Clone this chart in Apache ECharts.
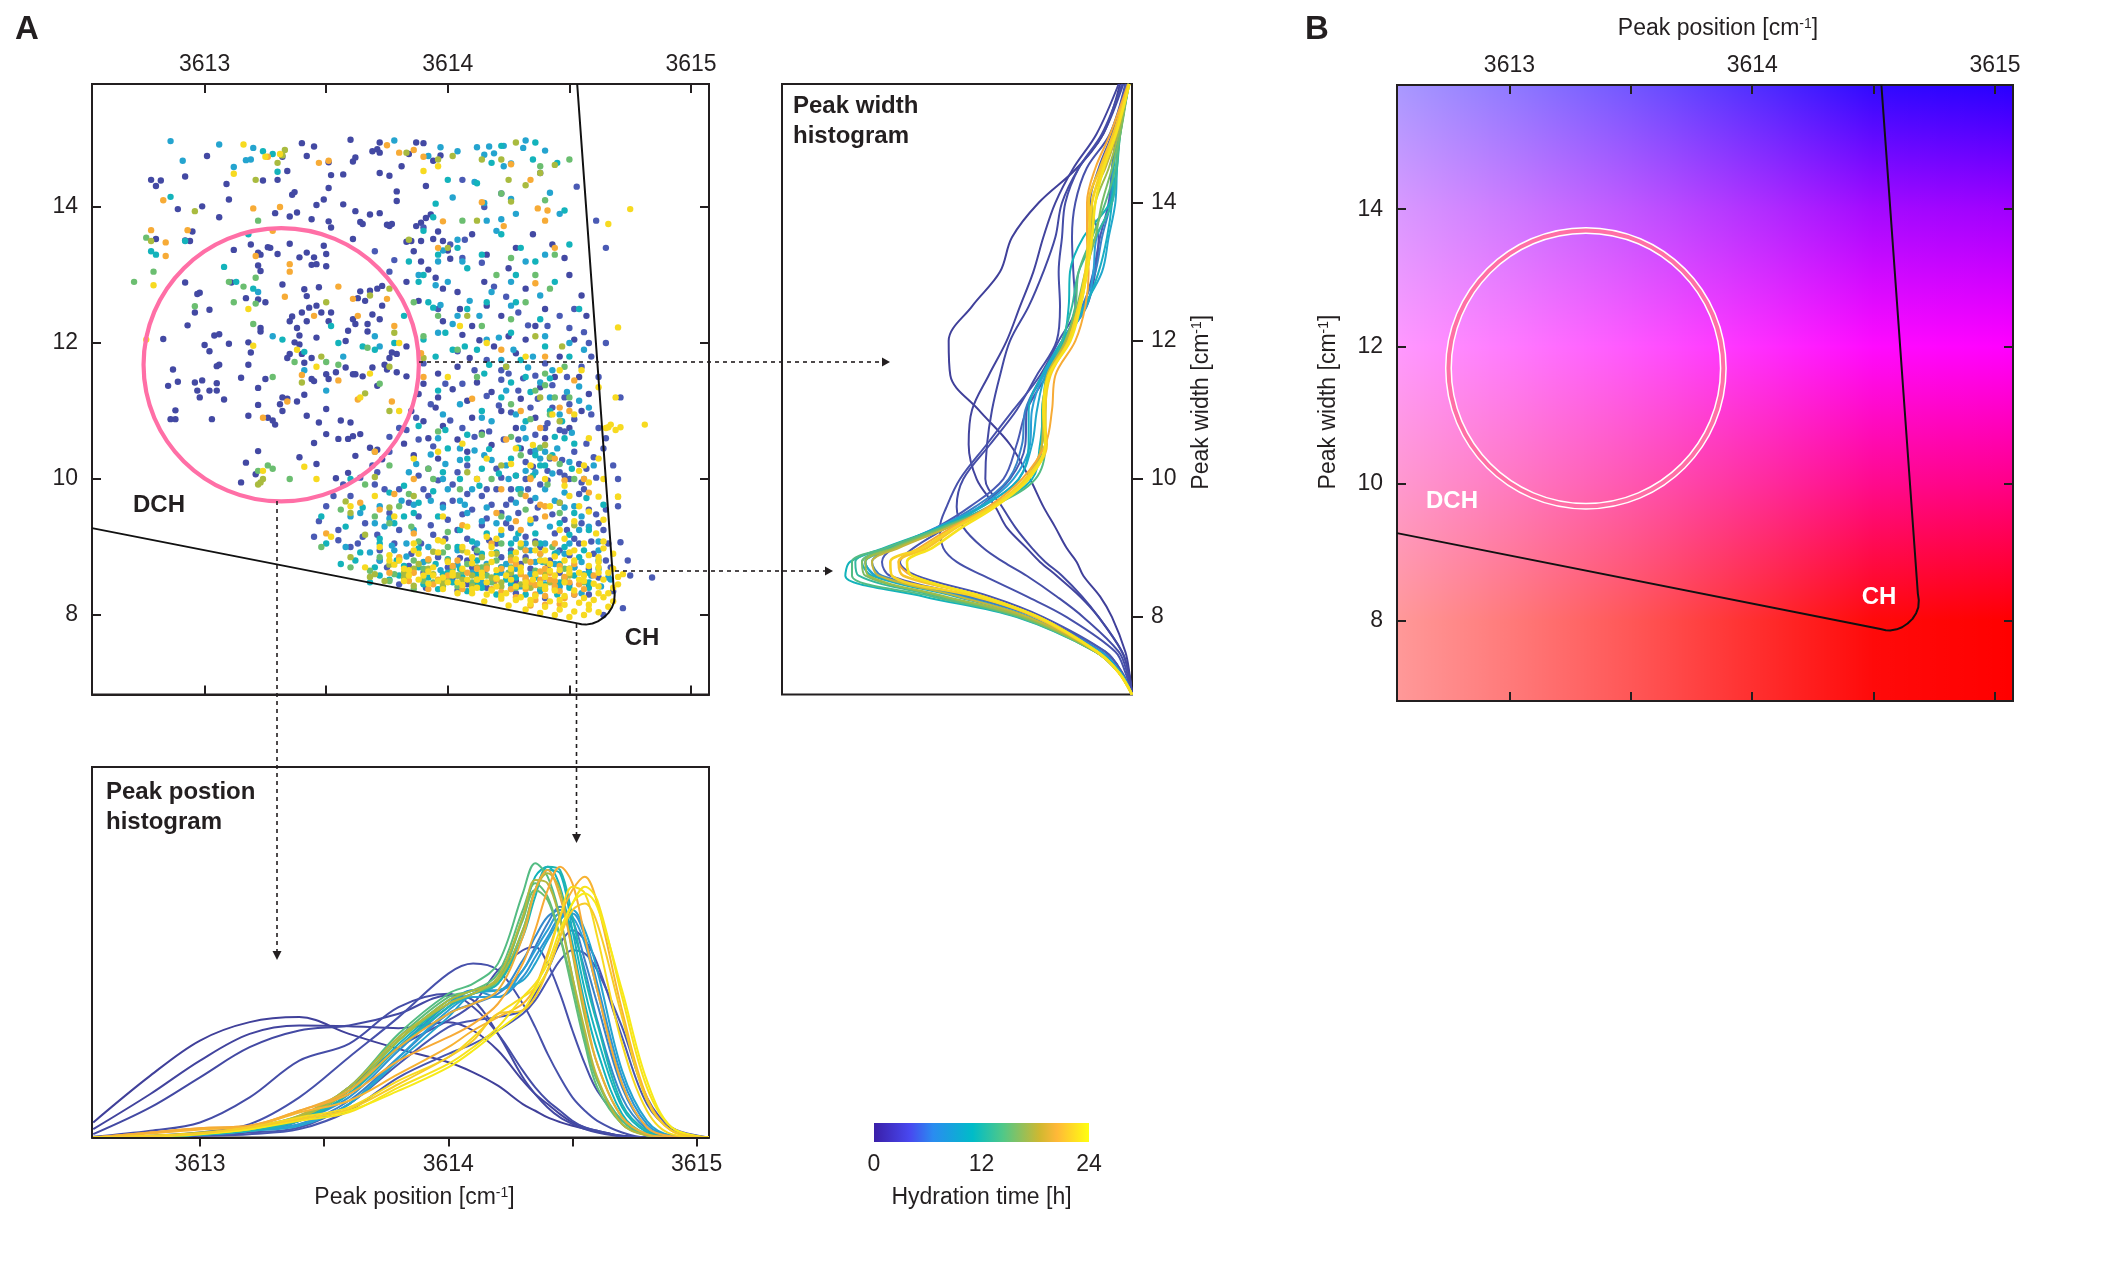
<!DOCTYPE html>
<html><head><meta charset="utf-8">
<style>html,body{margin:0;padding:0;background:#fff}#c{width:2101px;height:1261px}</style>
<script src="https://cdn.jsdelivr.net/npm/echarts@6/dist/echarts.min.js"></script>
</head><body><div id="c"></div>
<script>
// ---------- axis tick values ----------
const xTicks=[3613,3613.5,3614,3614.5,3615];
const xLabels=[3613,3614,3615];
const yTicks=[8,10,12,14];
const hourLabels=[0,12,24];
// ---------- colour scale for hydration time: bar, then printed marks ----------
const cmapHours=[0,4,6.6,11,14.4,18.5,20.4,24];
const cmapColors=['#3a1fa8','#4848f0','#2a8cf0','#00bcc8','#50c888','#d0b830','#ffb838','#ffff10'];
const markHours=[0,3,6.5,10.5,14,17,20,24];
const markColors=['#40409a','#4a5ab4','#2a9fd6','#13b3bb','#5fbe7a','#a9bb3f','#f7ab36','#f7ea18'];
// ---------- DCH/CH boundary and ellipse ----------
const boundaryX=[3612.537,3614.528,3614.55,3614.568,3614.595,3614.617,3614.64,3614.66,3614.675,3614.684,3614.686,3614.682,3614.532];
const boundaryY=[9.277,7.88,7.862,7.858,7.875,7.905,7.96,8.027,8.11,8.196,8.3,8.4,15.81];
const ellipseCentre=[3613.315,11.68];
const ellipseRadii=[0.566,2.01];
// ---------- panel B colour field ----------
const fieldHueY=[15.81,14,12,10,8,6.83];
const fieldHueColors=['#2800ff','#a000ff','#ff00ff','#ff0088','#ff0000','#ff0000'];
const fieldFadeX=[3612.537,3613,3613.5,3614,3614.5,3615.074];
const fieldFadeAlpha=[0.6,0.48,0.34,0.19,0.04,0];
// ---------- scatter points, as x-3612 and y, both in hundredths, pairs in a row ----------
const dots_h0=[78,1440,80,1431,82,1439,92,1445,101,1475,109,1434,110,1411,89,1397,99,1401,106,1385,80,1353,95,1364,92,1351,94,1350,112,1337,129,1391,135,1386,138,1392,130,1440,124,1439,136,1418,137,1422,134,1453,132,1474,140,1494,145,1489,142,1475,151,1466,152,1447,157,1448,151,1428,146,1403,149,1411,157,1404,162,1394,151,1379,152,1370,144,1382,164,1378,165,1375,168,1389,172,1391,175,1374,177,1375,176,1372,161,1353,160,1499,172,1495,169,1482,171,1485,172,1480,161,1467,162,1473,172,1450,176,1446,181,1460,184,1478,179,1423,179,1409,187,1495,190,1494,191,1431,194,1468,197,1476,189,1377,187,1372,191,1384,193,1389,183,1349,185,1350,189,1350,194,1353,196,1364,198,1350,200,1336,201,1324,
119,1345,122,1333,123,1330,126,1341,127,1340,130,1331,135,1346,139,1326,142,1333,145,1326,150,1331,149,1343,144,1315,146,1316,150,1313,122,1314,123,1306,132,1286,141,1279,147,1282,142,1269,146,1255,143,1252,140,1245,136,1239,135,1232,138,1222,139,1211,137,1201,142,1232,148,1245,152,1245,151,1232,146,1208,161,1235,162,1228,167,1228,163,1266,166,1262,168,1277,171,1280,173,1284,164,1276,173,1255,169,1242,172,1235,135,1184,134,1178,140,1184,144,1178,141,1171,139,1198,158,1203,159,1218,167,1217,177,1186,176,1178,179,1184,183,1195,174,1168,169,1164,175,1161,179,1157,183,1151,171,1137,165,1151,162,1154,161,1154,158,1164,154,1157,150,1154,151,1147,145,1144,144,1147,122,1134,131,1110,134,1118,132,1120,122,1109,126,1090,128,1086,129,1080,132,1100,138,1114,141,1124,150,1103,142,1093,147,1083,156,1086,160,1083,161,1063,164,1066,150,1066,155,1059,159,1059,145,1053,118,1093,139,1032,122,1041,117,1024,121,1007,115,995,146,1022,162,1034,159,1009,154,1001,168,1046,171,1043,173,1029,
92,1289,98,1274,97,1272,96,1245,102,1249,93,1226,104,1211,106,1213,83,1206,110,1199,118,1201,100,1197,102,1188,119,1186,105,1166,106,1168,87,1161,118,1168,115,1149,85,1137,89,1143,99,1145,96,1142,97,1130,98,1120,102,1130,105,1141,105,1130,108,1117,88,1101,86,1088,88,1088,103,1088,111,1289,117,1266,122,1264,125,1260,123,1222,123,1217,125,1147,
186,1335,189,1320,192,1308,195,1296,183,1290,198,1280,204,1275,188,1262,205,1250,198,1232,210,1225,216,1255,222,1240,206,1212,213,1204,219,1195,225,1210,232,1205,228,1185,209,1178,204,1165,196,1155,190,1140,188,1125,196,1120,202,1132,212,1142,218,1128,208,1115,195,1105,185,1100,190,1085,198,1078,210,1090,222,1100,230,1118,238,1135,244,1150,236,1090,228,1075,214,1068,204,1058,192,1060,182,1052,186,1035,196,1030,208,1040,218,1050,230,1045,240,1060,250,1075,255,1100,258,1125,254,1150,246,1180,252,1205,257,1240,255,1270,250,1300,248,1325,243,1345,235,1360,228,1340,225,1310,216,1330,210,1360,215,1290,232,1280,240,1250,236,1225];
const dots_h3=[188,1005,196,998,204,1010,212,1000,220,1015,232,1025,242,1030,252,1040,257,1015,250,1000,238,992,226,985,214,975,202,968,192,975,180,985,170,992,160,975,150,960,210,955,222,950,234,968,246,965,254,978,258,955,262,935,248,940,236,942,226,928,214,932,200,940,188,945,176,950,166,935,180,925,194,918,208,912,220,905,232,915,244,920,254,905,260,890,266,905,267,870,262,855,252,870,242,880,232,885,222,870,208,880,196,885,185,890,172,895,160,900,175,870,190,862,202,855,215,862,228,850,240,855,250,845,258,830,268,835,272,810,264,800,271,907,275,858,284,855,265,955,271,1120,265,1200,261,1380,265,1340,253,1430,238,1450,222,1420,206,1440,215,1400,190,1370,206,1325,178,1322,170,1335,176,1305,196,1250,204,1188,190,1170,225,1155,240,1170,248,1120,232,1000,248,1070,236,1065,208,1020,192,1015,220,985,228,1005,246,1010,256,985,224,962,216,942,204,925,212,892,226,895,238,900,250,888,258,868,246,862,234,868,222,885,210,870,200,870,268,1020,270,960,274,880,265,880,258,845,252,830,240,825,228,832,216,840,204,836,191,840,180,845,172,880,165,915,155,925,145,915,270,1000,265,1060,262,1150,258,1200,252,1250,
201,1345,207,1352,214,1318,219,1283,224,1268,229,1245,233,1226,241,1225,246,1240,250,1222,256,1216,259,1180,255,1165,249,1150,243,1138,236,1152,231,1148,222,1146,216,1122,221,1108,226,1098,234,1105,241,1082,246,1072,252,1088,257,1052,260,1032,254,1022,247,1028,241,1012,235,1018,229,1058,223,1058,217,1070,211,1062,206,1075,201,1086,194,1048,188,1058,183,1072,176,1062,169,1020,164,1002,157,992,153,975,147,938,155,910,163,905,171,918,178,905,184,872,189,905,193,932,199,912,205,884,211,898,217,910,224,935,229,950,237,958,243,948,249,925,255,935,261,948,264,925,259,908,252,912,246,895,241,870,236,908,230,875,226,858,219,848,213,856,208,845,202,992,208,978,218,962,226,970,233,985,241,998,248,1005,255,995,261,1002,264,1045,262,1075,259,1095,250,1110,243,1105,237,1118,229,1130,222,1160,216,1175,211,1160,206,1140,199,1140,193,1110,187,1090,180,1075,176,1040,171,1010,174,985,184,965,190,985,198,962,206,948,216,985,222,1002,234,1040,240,1075];
const dots_h7=[86,1497,106,1492,91,1468,117,1469,119,1470,112,1459,120,1487,192,1475,178,1498,197,1488,212,1488,217,1489,223,1490,204,1482,215,1477,232,1498,231,1487,240,1483,226,1464,219,1479,223,1460,211,1437,202,1414,226,1412,215,1406,242,1421,228,1390,222,1382,216,1380,204,1352,198,1336,196,1320,188,1300,195,1285,206,1320,200,1290,220,1365,246,1390,232,1320,240,1330,226,1290,218,1275,238,1270,226,1255,204,1240,196,1215,170,1210,172,1195,157,1180,150,1130,141,1160,128,1210,122,1275,216,1205,222,1175,240,1210,235,1180,250,1200,256,1190,254,1115,246,1095,242,1120,228,1095,214,1090,205,1110,198,1095,215,1035,224,1020,236,1010,196,1060,184,1010,172,960,164,950,158,900,183,905,192,900,204,895,212,905,224,875,234,860,244,845,252,870,262,880,266,855,240,905,254,925,234,935,220,935,208,950,198,958,186,925,178,895,172,880,160,945,228,965,240,985,252,960,260,1020,240,1040,230,985,244,875,236,878,228,868,248,890,256,860,262,895,250,905,242,930,232,905,238,850,226,838,214,848,204,858,256,1000,250,1025,248,980,210,985,186,962,174,930,198,1000,205,1045,232,1060,
197,1256,202,1228,209,1262,213,1240,221,1208,227,1190,233,1164,238,1142,243,1160,249,1128,254,1136,258,1105,251,1068,245,1045,238,1030,232,1012,225,1000,218,1028,211,1042,205,1028,199,1022,193,1036,187,1022,181,968,176,942,170,935,193,968,200,985,207,962,214,938,222,918,228,912,234,895,239,878,245,892,250,868,255,878,259,858,263,842,267,852,255,832,246,842,238,835,230,842,222,862,216,875,210,862,204,874,197,866,190,878,183,886,177,902,168,892,218,1085,224,1130,231,1075,236,1042,243,1008,248,958,255,945,262,908,258,930,244,968,236,972,225,942,216,958,205,968];
const dots_h11=[86,1415,92,1350,78,1335,80,1330,130,1452,124,1482,128,1478,118,1360,108,1312,113,1290,120,1280,132,1205,141,1187,152,1225,155,1200,165,1195,170,1190,178,1200,190,1205,195,1180,182,1240,192,1260,188,1290,196,1330,204,1340,208,1310,222,1360,230,1340,236,1320,248,1395,212,1435,195,1405,200,1440,235,1470,245,1465,218,1465,222,1490,236,1495,194,1385,190,1365,216,1260,228,1260,238,1235,226,1215,240,1195,230,1175,202,1190,212,1190,215,1155,196,1130,214,1100,222,1120,232,1085,242,1100,248,1060,240,1020,226,1030,214,1015,198,1010,182,990,176,980,165,958,160,1000,178,935,186,950,196,945,205,925,216,920,226,905,236,920,246,935,252,950,258,925,248,900,232,895,222,870,212,880,205,868,195,875,182,872,170,870,162,880,150,905,158,930,148,945,172,905,228,1005,236,1035,208,1065,200,1045,188,1078,224,1165,250,1180,254,1250,250,1345,244,1290,228,1300,214,1330,208,1250,204,900,214,890,226,890,238,880,246,875,254,885,258,862,248,855,236,855,224,852,212,860,200,862,192,855,184,862,176,852,168,848,190,845,202,848,214,840,226,845,238,838,250,840,258,840,245,830,232,830,220,830,208,835,196,838,
184,1320,190,1300,194,1252,199,1215,207,1195,217,1168,226,1142,234,1128,242,1148,247,1085,252,1052,243,1035,235,1005,229,985,221,1008,213,990,205,1000,194,982,188,965,182,945,172,912,164,892,156,875,179,880,188,898,200,882,210,908,220,892,229,920,238,905,244,890,250,918,256,895,262,868,258,848,252,858,246,848,240,845,234,842,228,855,220,858,212,846,206,856,198,860,188,870,180,858,172,858,232,1150,244,1062,251,1015,257,972,264,962,238,1020,229,1046,217,1044,208,1030,199,1072];
const dots_h14=[76,1355,79,1305,71,1290,122,1380,110,1290,121,1296,116,1283,96,1254,112,1260,121,1258,120,1228,128,1150,137,1172,150,1172,155,1168,167,1193,172,1140,126,1020,122,1012,128,1015,135,1000,170,1040,176,1020,186,1260,190,1210,196,1240,204,1190,214,1225,226,1235,232,1260,242,1280,236,1300,220,1300,206,1380,222,1420,240,1410,238,1460,250,1470,244,1330,226,1325,212,1150,226,1110,236,1130,242,1095,214,1065,196,1070,192,1015,180,960,166,992,156,955,148,900,170,945,185,930,200,922,222,945,232,955,246,950,238,890,226,870,200,900,186,880,172,885,160,870,190,868,202,868,214,870,225,862,236,865,248,868,243,900,222,905,212,895,200,855,190,850,210,848,198,842,186,838,204,842,178,860,168,865,176,850,192,880,216,858,230,1035,250,1120,240,1155,248,1165,
240,1138,244,1120,234,1088,226,1062,238,1046,246,1022,252,1000,241,992,230,978,218,1000,205,985,194,1000,184,978,176,935,188,908,198,892,208,875,220,880,230,900,240,878,248,852,256,848,238,842,228,840,218,848,206,864,194,848];
const dots_h17=[78,1350,96,1394,130,1465,132,1476,133,1484,121,1440,202,1475,183,1480,196,1470,214,1470,228,1495,222,1470,225,1440,232,1432,238,1450,244,1462,226,1408,212,1380,200,1340,184,1352,176,1280,168,1270,150,1260,148,1180,140,1142,166,1126,124,1000,123,995,122,992,158,967,176,1100,178,1215,208,1240,190,1178,176,1165,224,1165,236,1210,247,1195,240,1050,222,1020,208,1010,186,975,176,958,170,1003,160,950,166,918,160,885,180,882,194,893,206,895,220,890,232,880,214,885,240,860,226,862,212,870,200,880,188,875,170,860,182,855,194,860,206,852,218,855,230,845,242,848,250,858,174,850,186,843,198,845,210,842,222,842,234,840,244,838,
238,1120,246,1085,242,1032,234,1002,246,965,252,932,236,905,226,885,216,872,204,858,192,868,182,862,176,874,168,856,186,868,198,852,210,858,222,848,232,852];
const dots_h20=[83,1410,78,1366,93,1366,84,1348,84,1328,128,1365,121,1328,120,1398,126,1474,131,1400,147,1465,151,1468,180,1480,175,1491,186,1484,190,1474,226,1463,234,1440,237,1398,241,1395,223,1372,214,1407,198,1379,196,1340,135,1305,155,1283,161,1265,175,1265,135,1316,133,1268,145,1240,163,1240,178,1225,189,1185,177,1114,124,1090,134,1114,140,1153,155,1145,163,1117,190,1150,210,1118,222,1190,240,1180,236,1288,244,1340,240,1380,186,1000,178,978,170,1040,150,920,164,965,172,955,186,920,206,932,220,950,234,1000,244,1030,250,1100,252,1145,238,1075,230,1100,180,885,192,882,204,880,216,868,228,875,240,868,252,875,260,858,186,862,196,852,208,862,220,852,232,855,244,850,254,845,230,860,238,852,226,838,236,830,246,835,218,838,206,838,194,845,184,850,176,862,226,880,238,890,232,895,218,905,230,925,240,945,228,938,240,960,232,975,222,985,
242,862,246,872,240,838,248,856,238,864,234,848,242,852,250,848,236,844,244,842,232,838,240,828,248,825,236,822,228,826,222,834,246,816,240,815,234,814,252,830,256,838,212,868,200,858,224,1058,246,1105,256,1000,258,980,248,998,238,962,244,905,234,878,222,868,212,852,202,872,192,838];
const dots_h23=[116,1492,131,1478,125,1474,112,1449,196,1460,190,1453,118,1250,120,1196,79,1285,76,1205,138,1190,146,1165,180,1200,168,1155,164,1120,124,1012,141,1018,146,1000,160,960,152,915,180,1100,200,1150,205,1225,216,1200,232,1180,246,1160,255,1160,262,1135,269,1120,271,1076,265,1075,258,1060,266,1076,243,1095,252,1095,235,1050,228,1045,212,1000,198,945,180,880,172,900,186,905,196,910,208,930,216,915,222,925,234,940,242,960,250,975,258,995,256,1020,262,974,270,974,261,920,264,908,256,905,248,912,240,880,228,892,218,900,206,900,196,892,188,890,176,880,182,868,194,870,206,868,218,878,230,870,242,875,252,880,262,870,268,868,272,860,264,852,256,850,248,848,240,842,232,848,224,858,214,862,202,862,192,864,184,858,204,848,216,848,228,842,240,838,252,836,262,832,268,840,256,825,246,822,234,822,222,828,210,832,258,815,248,815,268,820,262,842,270,845,254,862,244,858,235,852,226,868,238,880,250,868,262,862,212,852,198,855,220,842,236,860,242,865,258,872,248,880,252,895,262,885,240,895,230,905,220,912,210,885,275,1397,266,1375,270,1223,267,1080,269,1072,270,974,281,1080,
215,820,225,814,232,808,238,803,244,800,250,797,256,800,262,804,266,812,264,826,258,808,252,805,246,808,240,812,234,816,228,822,222,824,216,830,210,838,204,832,198,838,192,846,188,852,182,850,194,858,200,848,206,844,212,840,218,836,224,832,230,826,236,828,242,820,248,828,254,818,260,822,266,832,270,856,266,862,260,846,254,852,250,862,244,836,238,846,232,842,226,852,220,854,214,856,208,852,202,858,196,850,190,858,184,866,178,874,200,878,210,876,220,866,230,864,240,856,246,866,256,858,262,878,268,890,264,898,258,888,250,892,244,886,236,895,228,882,218,890,208,892,198,908,186,895,176,888,166,870,246,925,252,938,258,952,264,940,254,960,248,990,254,1012,262,1030,264,1000,240,1000,234,1020,226,1022,216,1030,206,1052,196,1040,186,1030,178,945,170,975];
// ---------- histogram grids ----------
const posGrid=[3612.57,3612.8,3613,3613.2,3613.4,3613.6,3613.8,3614,3614.1,3614.2,3614.3,3614.35,3614.4,3614.45,3614.5,3614.55,3614.6,3614.7,3614.8,3614.9,3615.05];
const widthGrid=[6.88,7.2,7.5,8,8.3,8.6,8.8,9,9.3,9.6,10,10.5,11,11.5,12,12.5,13,13.5,14,14.5,15,15.72];
// ---------- peak position histogram, one list per hour ----------
const pos0=[4.5,18.5,29,34.5,36,31,26.5,22.5,19.5,15.5,10,8,6,4.6,3.5,2.6,1.8,.5,0,0,0];
const pos1=[2.5,13,23,31,33.5,33.3,32.7,34.5,32,26,17,13,10,7,4.5,3,2,.5,0,0,0];
const pos2=[1,9,18,27,32,33.5,37,42.5,41,31,18,13,9,6,4,2.5,1.5,.3,0,0,0];
const pos3=[.2,2,4.5,12,23,28,39,43,39,31,20,15,11,8,5,3,2,.4,0,0,0];
const pos4=[0,.5,1.5,4,12,24,36,49,52,50,40,33,25,18,12,8,5,1.5,0,0,0];
const pos5=[0,.3,1,2,5,15,27,35,40,50,56,57,52,43,32,22,14,5,1,0,0];
const pos6=[0,.2,.8,1.5,3,10,22,33,35,36,38,43,50,58,62,59,52,30,10,2.5,0];
const pos7=[0,.1,.5,1,2.5,8,18,25,28,32,37,41,47,53,56,55,50,33,12,3,0];
const pos8=[0,.3,1,2.5,4,11,24,37,40,43,50,57,64,69,65,53,40,15,3,.5,0];
const pos9=[0,.3,1,2,5,13,27,40,44,44,53,60,66,68,62,50,35,12,2.5,.3,0];
const pos10=[0,.2,.8,2,5,12,26,39,44,42,48,54,60,66,67,60,46,18,4,.5,0];
const pos11=[0,.2,.8,2,4,10,24,38,42,42,50,56,62,67,66,58,44,16,3,.5,0];
const pos12=[0,.2,.8,2,3.5,10,23,36,43,44,47,52,59,65,68,62,50,20,5,.6,0];
const pos13=[0,.2,1,2.5,5,13,28,40,43,46,62,74,80,79,62,44,30,9,1.5,.2,0];
const pos14=[0,.2,1,2.5,5.5,14,29,41,44,47,66,78,81,75,58,40,26,7,1,.2,0];
const pos15=[0,.2,.8,2,5,13,27,39,43,46,60,72,81,80,66,48,34,10,2,.2,0];
const pos16=[0,.3,1,3,6,15,31,43,46,52,73,82,78,66,48,30,17,5,.8,.1,0];
const pos17=[0,.3,1,3,6.5,15,30,42,44,49,68,76,72,60,44,28,15,4,.7,.1,0];
const pos18=[0,.3,1,3,6,14,29,40,43,47,65,74,71,60,46,30,17,4,.7,.1,0];
const pos19=[0,.5,1.2,3,6,14,29,41,44,47,62,74,79,74,55,36,22,6,1,.1,0];
const pos20=[0,.5,1.5,3,6.5,15,30,40,43,48,66,77,76,65,48,32,18,4,.6,.1,0];
const pos21=[0,1.5,2.8,3.5,8,14,27,37,40,44,60,74,80,72,56,38,22,6,1,.1,0];
const pos22=[0,1.5,2.8,3.5,8,13,23,30,34,40,52,62,74,81,76,60,44,16,3,.4,0];
const pos23=[0,1.2,2.4,3.2,7.5,11,19,27,32,36,40,45,55,66,74,78,70,38,12,2,0];
const pos24=[0,.5,1.2,3,6,9,17,24,30,37,42,45,54,66,75,73,60,28,8,1,0];
const pos25=[0,.4,1.2,2.5,5,7.5,15,22,27,33,42,46,52,62,70,75,71,42,15,3,0];
const pos26=[0,.3,1,2.5,5.5,8,14,21,26,32,38,44,50,60,70,73,69,44,17,3,0];
const pos27=[0,.4,1.2,3,5.5,8.5,16,24,29,37,38,42,50,60,68,70,64,36,11,2,0];
const posHours=[0,.5,1,1.5,2,2,2.5,2.5,5,5.5,6,6.5,7.5,10,10.5,11,13.5,14,14.5,17,17.5,19.5,20,20.5,23,23.5,24,22];
const posRows=[pos0,pos1,pos2,pos3,pos4,pos5,pos6,pos7,pos8,pos9,pos10,pos11,pos12,pos13,pos14,pos15,pos16,pos17,pos18,pos19,pos20,pos21,pos22,pos23,pos24,pos25,pos26,pos27];
// ---------- peak width histogram, one list per hour ----------
const wid0=[0,.8,2,6,9.6,14.6,16.6,19.6,23,26.6,30.6,36.6,46,54.5,55,48,39.6,36,28,16.6,8.6,3.6];
const wid1=[0,1,3,10,15.6,22.6,27.6,31.6,37.6,41,46.6,49,48,43,37.6,33.6,29.6,26.6,23,17.6,10.6,4];
const wid2=[0,1,3,10,15,21,26,30,35,39,44,43.5,42,39.6,36.6,31,26.6,23,21,16,8.6,2.6];
const wid3=[0,1.5,4,14.6,22.6,31.6,38.6,44.6,50.6,52.6,50.6,42.6,34.6,28.6,22.6,21.6,22,21,20,16,9,3];
const wid4=[0,2,5,19.6,31.6,44.6,52.6,56.6,57.6,55.6,51.6,43.6,35.6,27.6,22,17,17.6,18,17,13.6,6.6,2];
const wid5=[0,3,8,26.6,42.6,64.6,69.6,65.6,55.6,45.6,36.6,32,31.6,26.6,20.6,13.6,11,10,12.6,10,6,1.8];
const wid6=[0,3,8,28.6,48.6,72.6,75,71.6,58.6,48.6,38.6,34.6,31.6,25.6,19.6,14.6,11.6,9.6,7,6,4.6,1.6];
const wid7=[0,3.5,9,29,50,75,78,72,58,47,37,33,32,27,21,15,11,9,6.5,6,4,1.2];
const wid8=[0,3.5,9.5,30.6,51.6,76.6,80,72.6,58.6,45.6,35.6,30.6,30,26.6,20.6,13.6,11.6,10.6,6,4.6,3.6,.8];
const wid9=[0,3.5,10,31,52,77,80,71,57,45,34,30,28.5,26,20,14.5,9,7,5,4.5,3.8,.9];
const wid10=[0,3.5,10,31,53,78,81,73,58,45,34,31,31,27,21,14,10,7.5,6,5.5,4,1];
const wid11=[0,4,11,34.6,62.6,86,84.6,74.6,57.6,42.6,30,27.6,26.6,25.6,20.6,19,18.6,14.6,6.6,4.8,4,1];
const wid12=[0,4,11,33,58,82,83,74,57,43,31,27,27,25,21,18,16,11,6,4.5,3.5,1];
const wid13=[0,4,11,34,60,84,84,74,57,42,29,26,26,25,20,17,16,12,8,5,3.5,1];
const wid14=[0,4,11,33,57,80,81,72,56,42,31,27,26.5,25,19.5,16.5,14,11,9,6,3.5,1];
const wid15=[0,4,11,32,56,79,80,71,55,42,31,27,26,25,20,16,13.5,12,11,7,4,1];
const wid16=[0,4,10.5,31,52,76,78,70,55,42,32,27,26.5,25.5,19.5,15.5,13.5,12,12,8,4.5,1];
const wid17=[0,4,10.5,29,46,66,70,64,54,43,33,26,24,23,17,14,13,13.5,13.5,11,6.5,1.2];
const wid18=[0,4,10.6,28.6,44.6,68.6,70,61.6,52.6,41.6,31.6,25.6,26.6,25,19,16,13.6,12.6,13,9.6,5.6,1];
const wid19=[0,4,10.5,28,47,72,72.5,63,53,42,32,26,26,24.5,19,16,14,13,12,9,5,.8];
const wid20=[0,4,10.5,28,45,66,67.5,60,51,41,31,26,26.5,25,18.5,15.5,13.5,12,11,8.5,4.8,.8];
const widHours=[0,.5,1,1.5,2,2.5,3,5,6.5,8,9.5,10.5,12,13.5,15,16.5,18,20,21.5,22.5,23.5];
const widRows=[wid0,wid1,wid2,wid3,wid4,wid5,wid6,wid7,wid8,wid9,wid10,wid11,wid12,wid13,wid14,wid15,wid16,wid17,wid18,wid19,wid20];

const INK='#231f20', FONT='"Liberation Sans",Arial,sans-serif', PINK='#ff6fa6';
const plain=(v)=>String(v);
function hex(c){return [1,3,5].map(i=>parseInt(c.substr(i,2),16));}
function hourColor(h){
  let i=0; while(i<markHours.length-2&&h>markHours[i+1])i++;
  const t=Math.min(1,Math.max(0,(h-markHours[i])/(markHours[i+1]-markHours[i])));
  const a=hex(markColors[i]),b=hex(markColors[i+1]);
  return 'rgb('+a.map((v,k)=>Math.round(v+(b[k]-v)*t)).join(',')+')';
}
function unpack(arr,h){const o=[];for(let i=0;i<arr.length;i+=2)o.push([3612+arr[i]/100,arr[i+1]/100,h]);return o;}
const dots=[].concat(unpack(dots_h0,1),unpack(dots_h3,3),unpack(dots_h7,7.5),unpack(dots_h11,10.5),unpack(dots_h14,14.5),unpack(dots_h17,17),unpack(dots_h20,20),unpack(dots_h23,23));
const boundary=boundaryX.map((x,i)=>[x,boundaryY[i]]);

const xMin=3612.537,xMax=3615.074,yMin=6.83,yMax=15.81;
const grids=[
 {left:92,top:84,width:617,height:610.5,show:true,borderColor:INK,borderWidth:2,backgroundColor:'transparent'},
 {left:782,top:84,width:350,height:610.5,show:true,borderColor:INK,borderWidth:2,backgroundColor:'transparent'},
 {left:92,top:767,width:617,height:370.5,show:true,borderColor:INK,borderWidth:2,backgroundColor:'transparent'},
 {left:1397,top:85,width:616,height:616,show:true,borderColor:INK,borderWidth:2,backgroundColor:'transparent'},
 {left:874,top:1123,width:215,height:19}
];
const sup=(t)=>'{n|'+t+' [cm}{s|-1}{n|]}';
const rich={n:{fontSize:23,fontFamily:FONT,color:INK},s:{fontSize:14,fontFamily:FONT,color:INK,verticalAlign:'top',padding:[0,0,9,0]}};
function xax(grid,pos,labels,opt){return Object.assign({type:'value',gridIndex:grid,position:pos,min:xMin,max:xMax,z:5,
  axisLine:{show:true,onZero:false,lineStyle:{color:INK,width:2}},
  axisTick:{show:true,inside:true,length:9,customValues:xTicks,lineStyle:{color:INK,width:2}},
  axisLabel:{show:labels,margin:8,customValues:xLabels,formatter:plain,fontSize:23,fontFamily:FONT,color:INK},splitLine:{show:false}},opt||{});}
function yax(grid,pos,labels,opt){return Object.assign({type:'value',gridIndex:grid,position:pos,min:yMin,max:yMax,z:5,
  axisLine:{show:true,onZero:false,lineStyle:{color:INK,width:2}},
  axisTick:{show:true,inside:true,length:9,customValues:yTicks,lineStyle:{color:INK,width:2}},
  axisLabel:{show:labels,margin:14,customValues:yTicks,fontSize:23,fontFamily:FONT,color:INK},splitLine:{show:false}},opt||{});}
const xAxes=[
 xax(0,'bottom',false), xax(0,'top',true),
 {type:'value',gridIndex:1,position:'bottom',inverse:true,min:0,max:105,axisLine:{show:false},axisTick:{show:false},axisLabel:{show:false},splitLine:{show:false}},
 xax(2,'bottom',true,{min:3612.565,max:3615.05,axisTick:{show:true,inside:false,length:9,customValues:xTicks,lineStyle:{color:INK,width:2}},
   axisLabel:{show:true,margin:16,customValues:xLabels,formatter:plain,fontSize:23,fontFamily:FONT,color:INK},
   name:sup('Peak position'),nameLocation:'middle',nameGap:49,nameTextStyle:{rich,padding:[0,0,0,28]}}),
 xax(3,'bottom',false,{min:xMin,max:xMax}),
 xax(3,'top',true,{name:sup('Peak position'),nameLocation:'middle',nameGap:45,nameTextStyle:{rich,padding:[0,0,0,26]}}),
 {type:'value',gridIndex:4,position:'bottom',min:0,max:24,axisLine:{show:false},axisTick:{show:false},
  axisLabel:{margin:11,customValues:hourLabels,fontSize:23,fontFamily:FONT,color:INK},splitLine:{show:false},
  name:'Hydration time [h]',nameLocation:'middle',nameGap:44,nameTextStyle:{fontSize:23,fontFamily:FONT,color:INK}}
];
const yAxes=[
 yax(0,'left',true), yax(0,'right',false),
 yax(1,'right',true,{min:6.88,max:15.72,axisLine:{show:false},axisTick:{show:true,inside:false,length:11,customValues:yTicks,lineStyle:{color:INK,width:2}},
   axisLabel:{show:true,margin:19,customValues:yTicks,fontSize:23,fontFamily:FONT,color:INK},
   name:sup('Peak width'),nameLocation:'middle',nameGap:58,nameRotate:90,nameTextStyle:{rich,padding:[0,26,0,0]}}),
 {type:'value',gridIndex:2,min:0,max:110.8,axisLine:{show:false},axisTick:{show:false},axisLabel:{show:false},splitLine:{show:false}},
 yax(3,'left',true,{name:sup('Peak width'),nameLocation:'middle',nameGap:57,nameRotate:90,nameTextStyle:{rich,padding:[0,18,0,0]}}),
 yax(3,'right',false),
 {type:'value',gridIndex:4,min:0,max:1,show:false}
];
function ellipseSeries(xi,yi,halo){
  return {type:'custom',xAxisIndex:xi,yAxisIndex:yi,z:4,silent:true,clip:true,data:[[ellipseCentre[0],ellipseCentre[1]]],
    renderItem(p,api){
      const c=api.coord([api.value(0),api.value(1)]);
      const s=api.size([ellipseRadii[0],ellipseRadii[1]]);
      const shape={cx:c[0],cy:c[1],rx:s[0],ry:s[1]};
      const kids=[];
      if(halo)kids.push({type:'ellipse',shape,style:{fill:null,stroke:'#fff',lineWidth:7}});
      kids.push({type:'ellipse',shape,style:{fill:null,stroke:PINK,lineWidth:halo?4:4.2}});
      return {type:'group',children:kids};
    }};
}
function boundarySeries(xi,yi){return {type:'line',xAxisIndex:xi,yAxisIndex:yi,z:5,data:boundary,showSymbol:false,symbol:'none',silent:true,clip:true,lineStyle:{color:'#111',width:2},smooth:false};}
const series=[];
// panel B colour field
series.push({type:'custom',xAxisIndex:4,yAxisIndex:4,z:1,silent:true,clip:true,data:[[xMin,xMax,yMin,yMax]],
  renderItem(p,api){
    const a=api.coord([api.value(0),api.value(3)]),b=api.coord([api.value(1),api.value(2)]);
    const r={x:a[0],y:a[1],width:b[0]-a[0],height:b[1]-a[1]};
    const hueStops=fieldHueY.map((y,i)=>({offset:(yMax-y)/(yMax-yMin),color:fieldHueColors[i]}));
    const fadeStops=fieldFadeX.map((x,i)=>({offset:(x-xMin)/(xMax-xMin),color:'rgba(255,255,255,'+fieldFadeAlpha[i]+')'}));
    return {type:'group',children:[
      {type:'rect',shape:r,style:{fill:new echarts.graphic.LinearGradient(0,0,0,1,hueStops)}},
      {type:'rect',shape:r,style:{fill:new echarts.graphic.LinearGradient(0,0,1,0,fadeStops)}}
    ]};
  }});
// colour bar
series.push({type:'custom',xAxisIndex:6,yAxisIndex:6,silent:true,data:[[0,24]],
  renderItem(p,api){
    const a=api.coord([api.value(0),1]),b=api.coord([api.value(1),0]);
    const stops=cmapHours.map((h,i)=>({offset:h/24,color:cmapColors[i]}));
    return {type:'rect',shape:{x:a[0],y:a[1],width:b[0]-a[0],height:b[1]-a[1]},style:{fill:new echarts.graphic.LinearGradient(0,0,1,0,stops)}};
  }});
// scatter
series.push({type:'scatter',xAxisIndex:0,yAxisIndex:0,z:2,silent:true,large:false,data:dots,symbolSize:6.4,
  itemStyle:{opacity:1,color:(p)=>hourColor(p.value[2])}});
series.push(ellipseSeries(0,0,false),boundarySeries(0,0));
series.push(ellipseSeries(4,4,true),boundarySeries(4,4));
// histograms
widRows.forEach((row,i)=>series.push({type:'line',xAxisIndex:2,yAxisIndex:2,z:3,silent:true,showSymbol:false,symbol:'none',smooth:0.35,clip:true,
  data:row.map((v,k)=>[v,widthGrid[k]]),lineStyle:{color:hourColor(widHours[i]),width:widHours[i]>20.5?2.6:2}}));
posRows.forEach((row,i)=>series.push({type:'line',xAxisIndex:3,yAxisIndex:3,z:3,silent:true,showSymbol:false,symbol:'none',smooth:0.35,clip:true,
  data:row.map((v,k)=>[posGrid[k],v]),lineStyle:{color:hourColor(posHours[i]),width:2}}));

function txt(x,y,t,o){return {type:'text',x,y,z:20,silent:true,style:Object.assign({text:t,font:'bold 24px '+FONT,fill:INK,textAlign:'left',textVerticalAlign:'middle'},o||{})};}
function dash(x1,y1,x2,y2){return {type:'line',z:20,silent:true,shape:{x1,y1,x2,y2},style:{stroke:INK,lineWidth:1.6,lineDash:[4,4]}};}
function head(pts){return {type:'polygon',z:20,silent:true,shape:{points:pts},style:{fill:INK}};}
const graphics=[
 txt(15,30,'A',{font:'bold 33px '+FONT}),
 txt(1305,30,'B',{font:'bold 33px '+FONT}),
 txt(793,106,'Peak width'), txt(793,136,'histogram'),
 txt(106,792,'Peak postion'), txt(106,822,'histogram'),
 txt(159,505,'DCH',{textAlign:'center'}), txt(642,638,'CH',{textAlign:'center'}),
 txt(1452,501,'DCH',{textAlign:'center',fill:'#fff'}), txt(1879,597,'CH',{textAlign:'center',fill:'#fff'}),
 dash(419,362,882,362), head([[882,357.5],[890,362],[882,366.5]]),
 dash(615,571,825,571), head([[825,566.5],[833,571],[825,575.5]]),
 dash(277,501,277,951), head([[272.5,951],[281.5,951],[277,960]]),
 dash(576.5,624,576.5,834), head([[572,834],[581,834],[576.5,843]])
];
const chart=echarts.init(document.getElementById('c'),null,{renderer:'canvas',width:2101,height:1261});
chart.setOption({animation:false,backgroundColor:'#fff',textStyle:{fontFamily:FONT},tooltip:{show:false},
  grid:grids,xAxis:xAxes,yAxis:yAxes,series,graphic:{elements:graphics}});
</script></body></html>
